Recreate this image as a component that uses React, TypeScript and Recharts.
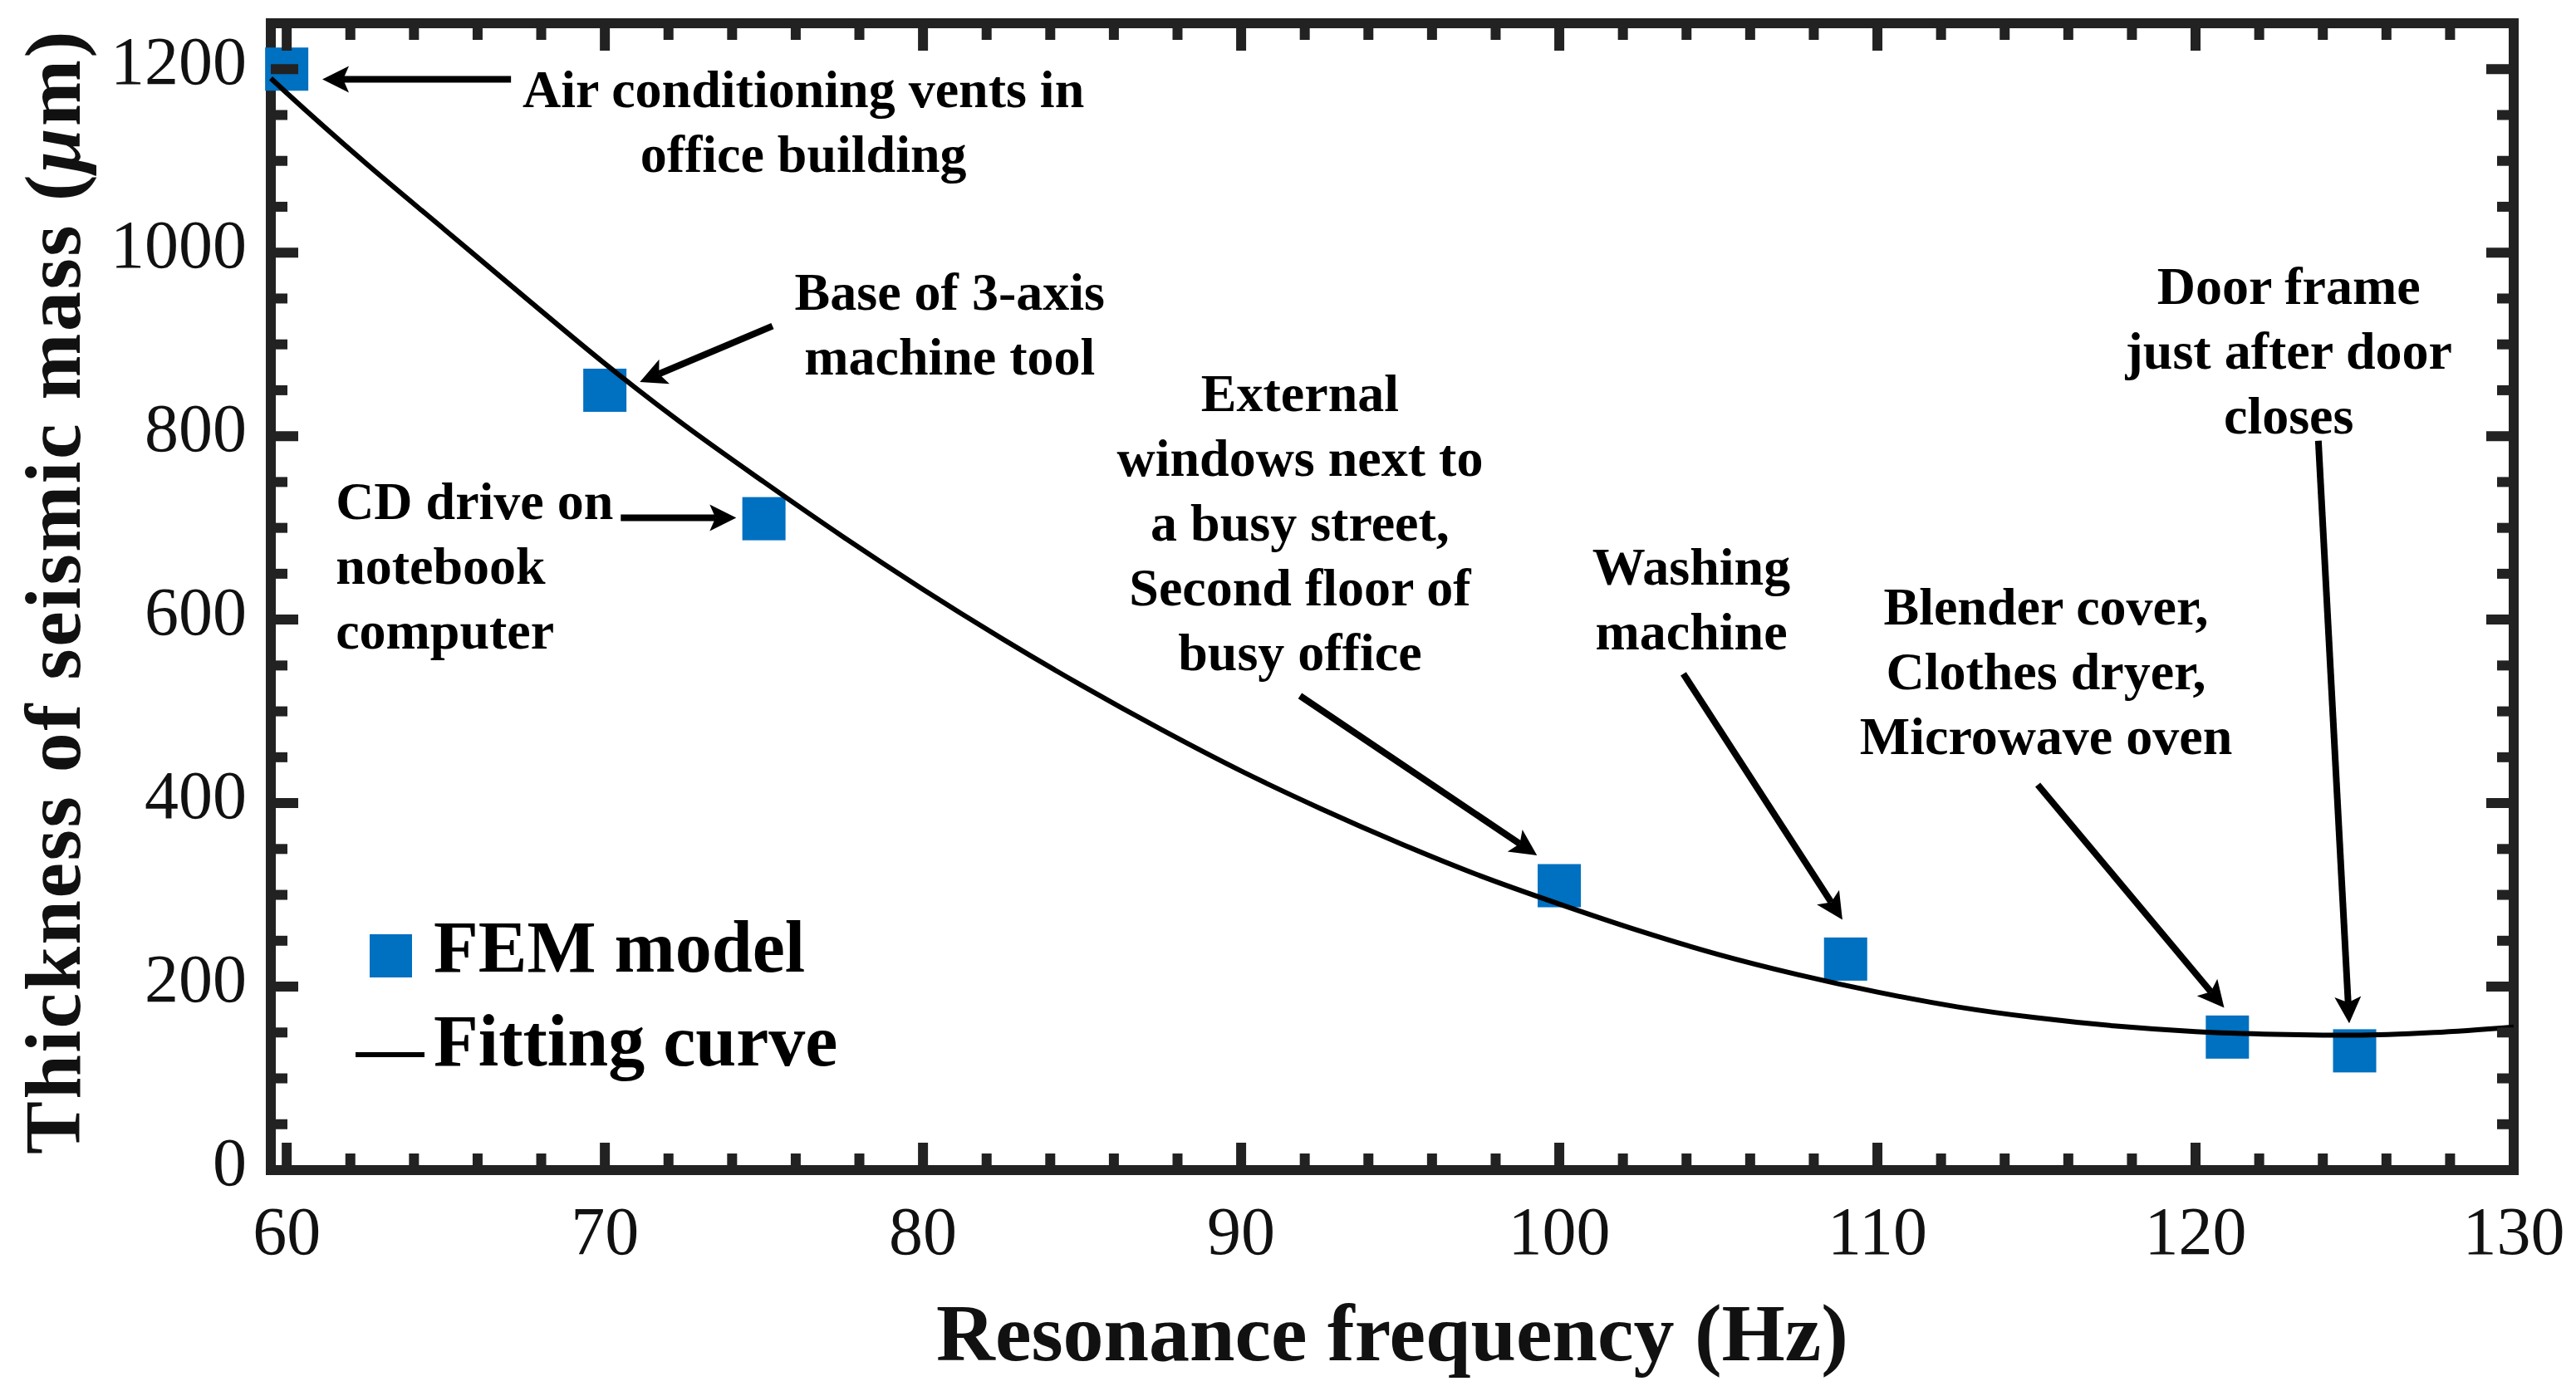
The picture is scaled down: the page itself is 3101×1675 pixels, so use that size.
import React from "react";
import {
  ComposedChart,
  Line,
  Scatter,
  XAxis,
  YAxis,
  ReferenceArea,
  ReferenceLine,
  ReferenceDot,
  Legend,
} from "recharts";

// FEM model results
const femFreq = [60, 70, 75, 100, 109, 121, 125];
const femThickness = [1200, 850, 710, 310, 230, 145, 130];

// fitting curve
const fitFreq = [
  59.5, 60, 62.5, 65, 67.5, 70, 72.5, 75, 77.5, 80, 82.5, 85, 87.5, 90, 92.5, 95,
  97.5, 100, 102.5, 105, 107.5, 110, 112.5, 115, 117.5, 120, 122.5, 125, 127.5, 130,
];
const fitThickness = [
  1190, 1174, 1097, 1024, 951, 879, 812, 750, 690, 633, 579, 528, 480, 435, 394, 356,
  321, 290, 261, 235, 213, 194, 178, 166, 157, 151, 148, 147, 150, 156,
];

const xTickValues = [
  60, 62, 64, 66, 68, 70, 72, 74, 76, 78, 80, 82, 84, 86, 88, 90, 92, 94, 96, 98, 100,
  102, 104, 106, 108, 110, 112, 114, 116, 118, 120, 122, 124, 126, 128, 130,
];
const yTickValues = [
  0, 50, 100, 150, 200, 250, 300, 350, 400, 450, 500, 550, 600, 650, 700, 750, 800,
  850, 900, 950, 1000, 1050, 1100, 1150, 1200,
];

const femData = femFreq.map((x, i) => ({ x, y: femThickness[i] }));
const fitData = fitFreq.map((x, i) => ({ x, y: fitThickness[i] }));

// annotation layout (data coordinates)
const notes = [
  { lines: ["Air conditioning vents in", "office building"], at: [76.24, 1159], anchor: "middle", from: [67.05, 1189], to: [61.12, 1189] },
  { lines: ["Base of 3-axis", "machine tool"], at: [80.84, 937.6], anchor: "middle", from: [75.27, 920], to: [71.1, 859] },
  { lines: ["CD drive on", "notebook", "computer"], at: [61.54, 709.5], anchor: "start", from: [70.5, 711], to: [74.13, 711] },
  { lines: ["External", "windows next to", "a busy street,", "Second floor of", "busy office"], at: [91.85, 827], anchor: "middle", from: [91.85, 517], to: [99.3, 343] },
  { lines: ["Washing", "machine"], at: [104.15, 638], anchor: "middle", from: [103.9, 541], to: [108.9, 273] },
  { lines: ["Blender cover,", "Clothes dryer,", "Microwave oven"], at: [115.3, 594.6], anchor: "middle", from: [115.04, 420], to: [120.9, 177] },
  { lines: ["Door frame", "just after door", "closes"], at: [122.93, 944], anchor: "middle", from: [123.86, 795], to: [124.83, 160] },
];

const SERIF = '"Liberation Serif", "Times New Roman", serif';
const BLUE = "#0070C0";
const FRAME = "#222";

const W = 3085;
const H = 1659;
const MARGIN = { top: 20, right: 67, left: 0, bottom: 0 };
const Y_AXIS_W = 318;
const X_AXIS_H = 258;
const PLOT_W = W - Y_AXIS_W - MARGIN.right;
const PLOT_H = H - MARGIN.top - X_AXIS_H;

function XTick(props: any) {
  const { x, y, payload } = props;
  const v = payload.value;
  const major = v % 10 === 0;
  const len = major ? 33 : 20;
  return (
    <g>
      <line x1={x} x2={x} y1={y} y2={y - len} stroke={FRAME} strokeWidth={12} />
      <line x1={x} x2={x} y1={y - PLOT_H} y2={y - PLOT_H + len} stroke={FRAME} strokeWidth={12} />
      {major && (
        <text x={x} y={y + 101} textAnchor="middle" fontFamily={SERIF} fontSize={82} fill="#111">
          {v}
        </text>
      )}
    </g>
  );
}

function YTick(props: any) {
  const { x, y, payload } = props;
  const v = payload.value;
  const major = v % 200 === 0;
  const len = major ? 33 : 20;
  return (
    <g>
      <line x1={x} x2={x + len} y1={y} y2={y} stroke={FRAME} strokeWidth={12} />
      <line x1={x + PLOT_W} x2={x + PLOT_W - len} y1={y} y2={y} stroke={FRAME} strokeWidth={12} />
      {major && (
        <text x={x - 29} y={y + 18} textAnchor="end" fontFamily={SERIF} fontSize={82} fill="#111">
          {v}
        </text>
      )}
    </g>
  );
}

function XTitle() {
  const cx = Y_AXIS_W + PLOT_W / 2;
  const cy = MARGIN.top + PLOT_H + 229;
  return (
    <text x={cx} y={cy} textAnchor="middle" fontFamily={SERIF} fontWeight="bold" fontSize={98} fill="#111">
      Resonance frequency (Hz)
    </text>
  );
}

function YTitle() {
  const cx = 88;
  const cy = MARGIN.top + PLOT_H / 2 - 6;
  return (
    <text
      x={cx}
      y={cy}
      transform={`rotate(-90, ${cx}, ${cy})`}
      textAnchor="middle"
      fontFamily={SERIF}
      fontWeight="bold"
      fontSize={96}
      letterSpacing={2.5}
      fill="#111"
    >
      Thickness of seismic mass (<tspan fontStyle="italic">μ</tspan>m)
    </text>
  );
}

function Arrow(props: any) {
  const { x1, y1, x2, y2 } = props;
  const dx = x2 - x1;
  const dy = y2 - y1;
  const len = Math.hypot(dx, dy) || 1;
  const ux = dx / len;
  const uy = dy / len;
  const headLen = 32;
  const half = 16;
  const bx = x2 - ux * headLen;
  const by = y2 - uy * headLen;
  const px = -uy;
  const py = ux;
  const nx = bx + ux * 7;
  const ny = by + uy * 7;
  return (
    <g>
      <line x1={x1} y1={y1} x2={nx} y2={ny} stroke="#000" strokeWidth={8} />
      <polygon
        points={`${x2},${y2} ${bx + px * half},${by + py * half} ${nx},${ny} ${bx - px * half},${by - py * half}`}
        fill="#000"
      />
    </g>
  );
}

function NoteText({ cx, cy, lines, anchor }: any) {
  return (
    <text x={cx} y={cy} textAnchor={anchor} fontFamily={SERIF} fontWeight="bold" fontSize={64} fill="#000">
      {lines.map((l: string, i: number) => (
        <tspan key={i} x={cx} dy={i === 0 ? 0 : 78}>
          {l}
        </tspan>
      ))}
    </text>
  );
}

function LegendBox() {
  return (
    <svg width={640} height={220} style={{ display: "block", overflow: "visible" }}>
      <rect x={17} y={27} width={51} height={52} fill={BLUE} />
      <text x={94} y={72} fontFamily={SERIF} fontWeight="bold" fontSize={88} fill="#000">
        FEM model
      </text>
      <line x1={0} x2={83} y1={172} y2={172} stroke="#000" strokeWidth={6} />
      <text x={94} y={185} fontFamily={SERIF} fontWeight="bold" fontSize={88} fill="#000">
        Fitting curve
      </text>
    </svg>
  );
}

export default function App() {
  return (
    <div style={{ width: W, height: H, background: "#fff" }}>
      <ComposedChart width={W} height={H} margin={MARGIN}>
        <XAxis
          type="number"
          dataKey="x"
          domain={[59.5, 130]}
          ticks={xTickValues}
          interval={0}
          height={X_AXIS_H}
          axisLine={false}
          tickLine={false}
          tickSize={0}
          tickMargin={0}
          tick={<XTick />}
          label={<XTitle />}
        />
        <YAxis
          type="number"
          dataKey="y"
          domain={[0, 1250]}
          ticks={yTickValues}
          interval={0}
          width={Y_AXIS_W}
          axisLine={false}
          tickLine={false}
          tickSize={0}
          tickMargin={0}
          tick={<YTick />}
          label={<YTitle />}
        />

        {/* box round the plot */}
        <ReferenceArea
          x1={59.5}
          x2={130}
          y1={0}
          y2={1250}
          fill="none"
          fillOpacity={0}
          stroke={FRAME}
          strokeWidth={12}
          ifOverflow="visible"
        />

        <Scatter
          name="FEM model"
          data={femData}
          dataKey="y"
          isAnimationActive={false}
          zIndex={1600}
          shape={(p: any) => <rect x={p.cx - 26} y={p.cy - 26} width={52} height={52} fill={BLUE} />}
        />
        <Line
          name="Fitting curve"
          data={fitData}
          dataKey="y"
          type="monotone"
          stroke="#000"
          strokeWidth={6}
          dot={false}
          activeDot={false}
          isAnimationActive={false}
          zIndex={1700}
        />

        {notes.map((n, i) => (
          <ReferenceLine
            key={`arrow-${i}`}
            segment={[
              { x: n.from[0], y: n.from[1] },
              { x: n.to[0], y: n.to[1] },
            ]}
            ifOverflow="visible"
            shape={(p: any) => <Arrow {...p} />}
          />
        ))}
        {notes.map((n, i) => (
          <ReferenceDot
            key={`note-${i}`}
            x={n.at[0]}
            y={n.at[1]}
            ifOverflow="visible"
            shape={(p: any) => <NoteText cx={p.cx} cy={p.cy} lines={n.lines} anchor={n.anchor} />}
          />
        ))}

        <Legend
          layout="vertical"
          align="center"
          verticalAlign="middle"
          wrapperStyle={{ left: 420, top: 1090, width: 640, height: 220 }}
          content={() => <LegendBox />}
        />
      </ComposedChart>
    </div>
  );
}
